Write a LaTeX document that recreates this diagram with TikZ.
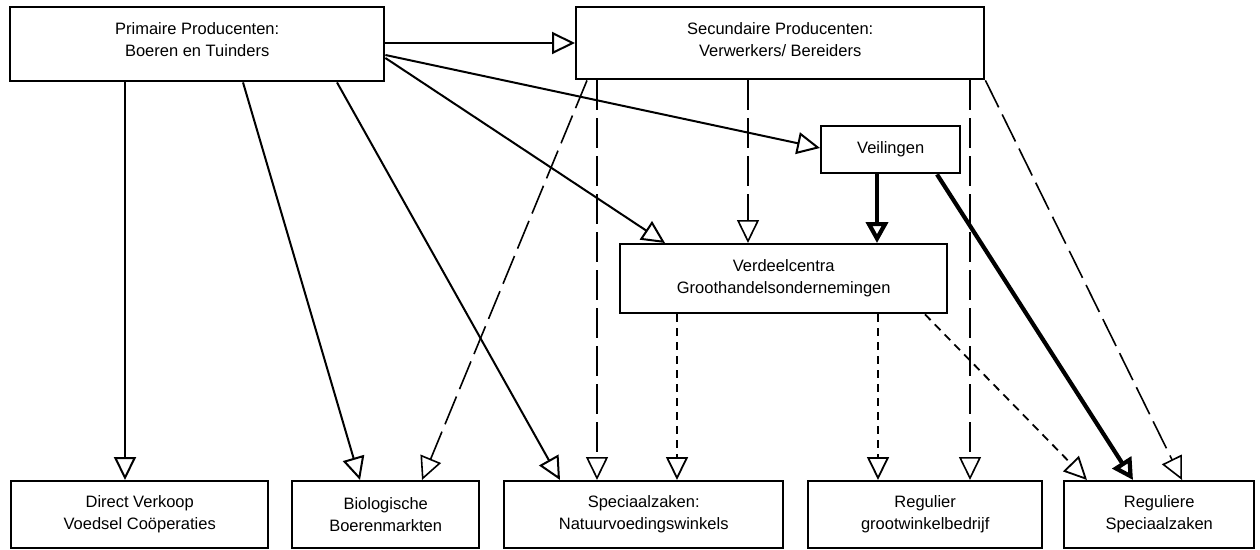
\documentclass[tikz,border=0pt]{standalone}
\usepackage{fontspec}
\setmainfont{Liberation Sans}
\usetikzlibrary{arrows.meta,calc}
\begin{document}
\begin{tikzpicture}[x=1pt,y=-1pt,
  txt/.style={align=center, inner sep=0pt, font=\fontsize{16.5}{22}\selectfont},
  box/.style={draw, line width=2.4pt, anchor=north west, txt},
  tri/.style={-{Triangle[open,length=23pt,width=22pt]}},
  solidarrow/.style={tri, line width=2pt},
  thickarrow/.style={-{Triangle[open,length=21pt,width=22pt]}, line width=4.2pt},
  longdash/.style={tri, line width=1.6pt, dash pattern=on 30pt off 8pt},
  shortdash/.style={tri, line width=1.8pt, dash pattern=on 8pt off 6pt}
]
\useasboundingbox (0,0) rectangle (1260,549);
\fill[white] (0,0) rectangle (1260,549);

\node[box, minimum width=374pt, minimum height=74pt,
  label={[txt, yshift=5pt]center:{Primaire Producenten:\\Boeren en Tuinders}}] (P) at (9,6) {};
\node[box, minimum width=408pt, minimum height=72pt,
  label={[txt, yshift=4pt]center:{Secundaire Producenten:\\Verwerkers/ Bereiders}}] (S) at (575,6) {};
\node[box, minimum width=139pt, minimum height=47pt] (V) at (820,125)
  {Veilingen};
\node[box, minimum width=327pt, minimum height=69pt] (D) at (619,243)
  {Verdeelcentra\\Groothandelsondernemingen};
\node[box, minimum width=257pt, minimum height=67pt] (B1) at (10,480)
  {Direct Verkoop\\Voedsel Coöperaties};
\node[box, minimum width=187pt, minimum height=67pt] (B2) at (291,480)
  {Biologische\\Boerenmarkten};
\node[box, minimum width=279pt, minimum height=67pt] (B3) at (503,480)
  {Speciaalzaken:\\Natuurvoedingswinkels};
\node[box, minimum width=234pt, minimum height=67pt] (B4) at (807,480)
  {Regulier\\grootwinkelbedrijf};
\node[box, minimum width=190pt, minimum height=67pt] (B5) at (1063,480)
  {Reguliere\\Speciaalzaken};

% from Primaire Producenten
\draw[solidarrow] ([yshift=-37pt]P.north east) -- ([yshift=-37pt]S.north west);
\draw[solidarrow] ([yshift=-49pt]P.north east) -- ([yshift=-23pt]V.north west);
\draw[solidarrow] ([yshift=-52pt]P.north east) -- ([xshift=46pt]D.north west);
\draw[solidarrow] ([xshift=116pt]P.south west) -- ([xshift=115pt]B1.north west);
\draw[solidarrow] ([xshift=234pt]P.south west) -- ([xshift=69pt]B2.north west);
\draw[solidarrow] ([xshift=328pt]P.south west) -- ([xshift=57pt]B3.north west);

% from Secundaire Producenten
\draw[longdash] ([xshift=12pt]S.south west) -- ([xshift=131pt]B2.north west);
\draw[longdash] ([xshift=22pt]S.south west) -- ([xshift=94pt]B3.north west);
\draw[longdash] ([xshift=173pt]S.south west) -- ([xshift=129pt]D.north west);
\draw[longdash] ([xshift=395pt]S.south west) -- ([xshift=163pt]B4.north west);
\draw[longdash] (S.south east) -- ([xshift=119pt]B5.north west);

% from Veilingen
\draw[thickarrow] ([xshift=57pt]V.south west) -- ([xshift=258pt]D.north west);
\draw[thickarrow] ([xshift=117pt]V.south west) -- ([xshift=70pt]B5.north west);

% from Verdeelcentra
\draw[shortdash] ([xshift=58pt]D.south west) -- ([xshift=174pt]B3.north west);
\draw[shortdash] ([xshift=259pt]D.south west) -- ([xshift=71pt]B4.north west);
\draw[shortdash] ([xshift=306pt]D.south west) -- ([xshift=24pt]B5.north west);
\end{tikzpicture}
\end{document}
